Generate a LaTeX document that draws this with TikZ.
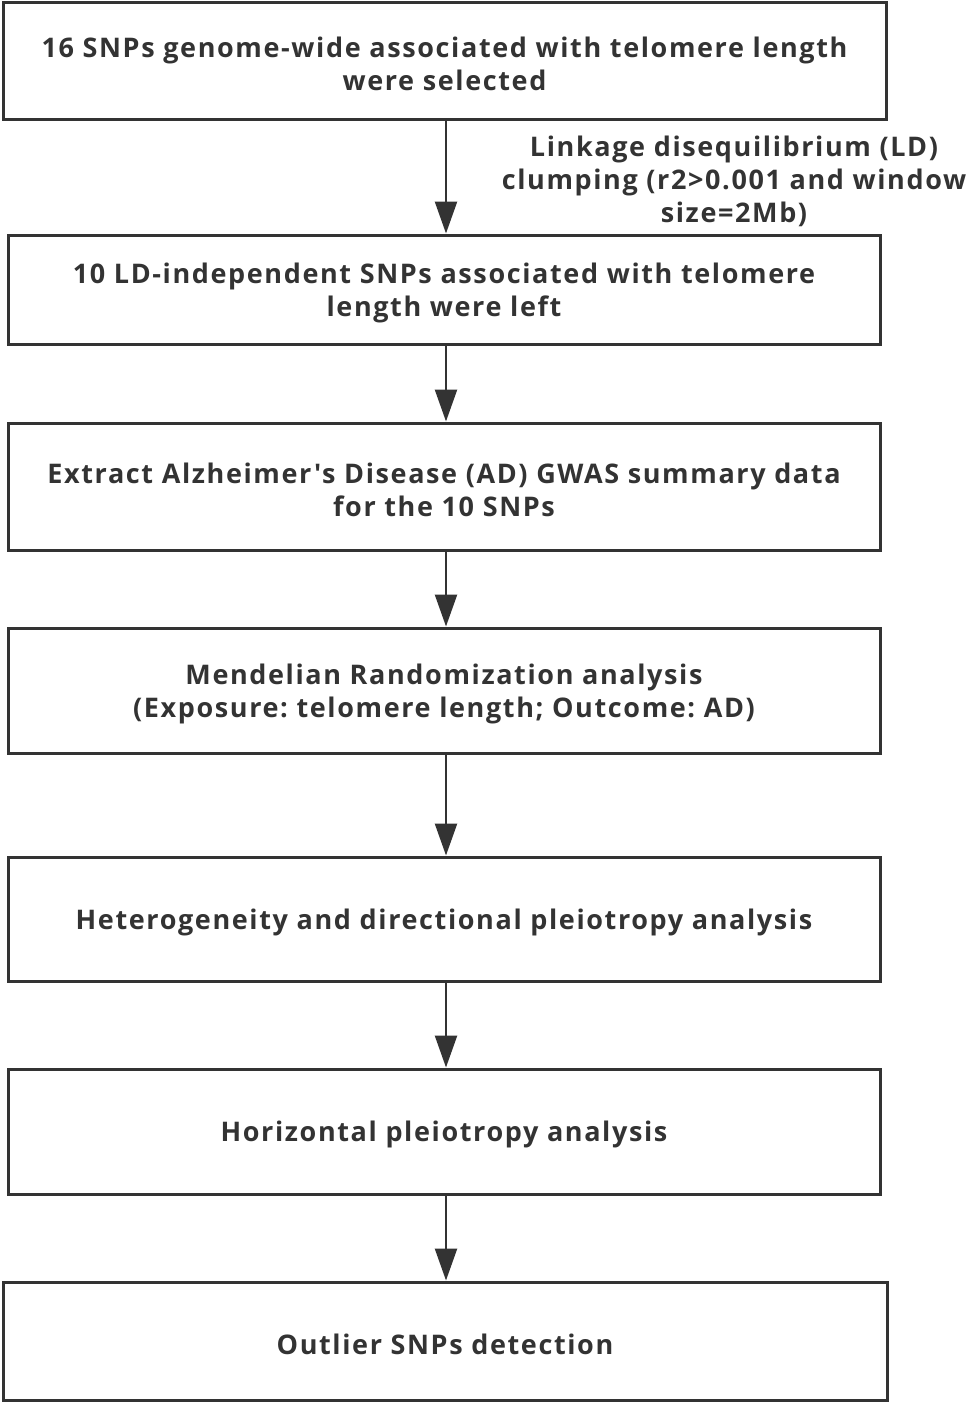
\documentclass[tikz,border=0pt]{standalone}
\usepackage{fontspec}
\setmainfont{Open Sans}[LetterSpace=6, Ligatures=TeXOff]
\usetikzlibrary{arrows.meta}
\definecolor{ink}{HTML}{333333}
\frenchspacing
\tikzset{
  box/.style={draw=ink, line width=3pt, rectangle, inner sep=0pt},
  boxtext/.style={align=center, text=ink, inner sep=0pt, yshift=-3pt,
    font=\fontsize{27}{33}\selectfont\bfseries},
  flow/.style={draw=ink, line width=2.5pt, -{Triangle[width=22pt,length=32pt]}},
  note/.style={align=center, text=ink, font=\fontsize{27}{33}\selectfont\bfseries, inner sep=0pt}
}
\begin{document}
\begin{tikzpicture}[x=1pt,y=-1pt]
\useasboundingbox (0,0) rectangle (968,1403);
\node[box, minimum width=883pt, minimum height=117pt,
  label={[boxtext]center:{16 SNPs genome-wide associated with telomere length\\were selected}}] (b1) at (444.5,60.5) {};
\node[box, minimum width=872pt, minimum height=109pt,
  label={[boxtext]center:{10 LD-independent SNPs associated with telomere\\length were left}}] (b2) at (444,289.5) {};
\node[box, minimum width=872pt, minimum height=127pt,
  label={[boxtext]center:{Extract Alzheimer's Disease (AD) GWAS summary data\\for the 10 SNPs}}] (b3) at (444,486.5) {};
\node[box, minimum width=872pt, minimum height=125pt,
  label={[boxtext]center:{Mendelian Randomization analysis\\(Exposure: telomere length; Outcome: AD)}}] (b4) at (444,690.5) {};
\node[box, minimum width=872pt, minimum height=124pt,
  label={[boxtext]center:{Heterogeneity and directional pleiotropy analysis}}] (b5) at (444,919) {};
\node[box, minimum width=872pt, minimum height=125pt,
  label={[boxtext]center:{Horizontal pleiotropy analysis}}] (b6) at (444,1131.5) {};
\node[box, minimum width=884pt, minimum height=118pt,
  label={[boxtext]center:{Outlier SNPs detection}}] (b7) at (445,1341) {};
\node[note] (ld) at (734,181)
  {Linkage disequilibrium (LD)\\clumping (r2>0.001 and window\\size=2Mb)};
\coordinate (ax) at (446,0);
\draw[flow] (b1.south -| ax) -- (b2.north -| ax);
\draw[flow] (b2.south -| ax) -- (b3.north -| ax);
\draw[flow] (b3.south -| ax) -- (b4.north -| ax);
\draw[flow] (b4.south -| ax) -- (b5.north -| ax);
\draw[flow] (b5.south -| ax) -- (b6.north -| ax);
\draw[flow] (b6.south -| ax) -- (b7.north -| ax);
\end{tikzpicture}
\end{document}
